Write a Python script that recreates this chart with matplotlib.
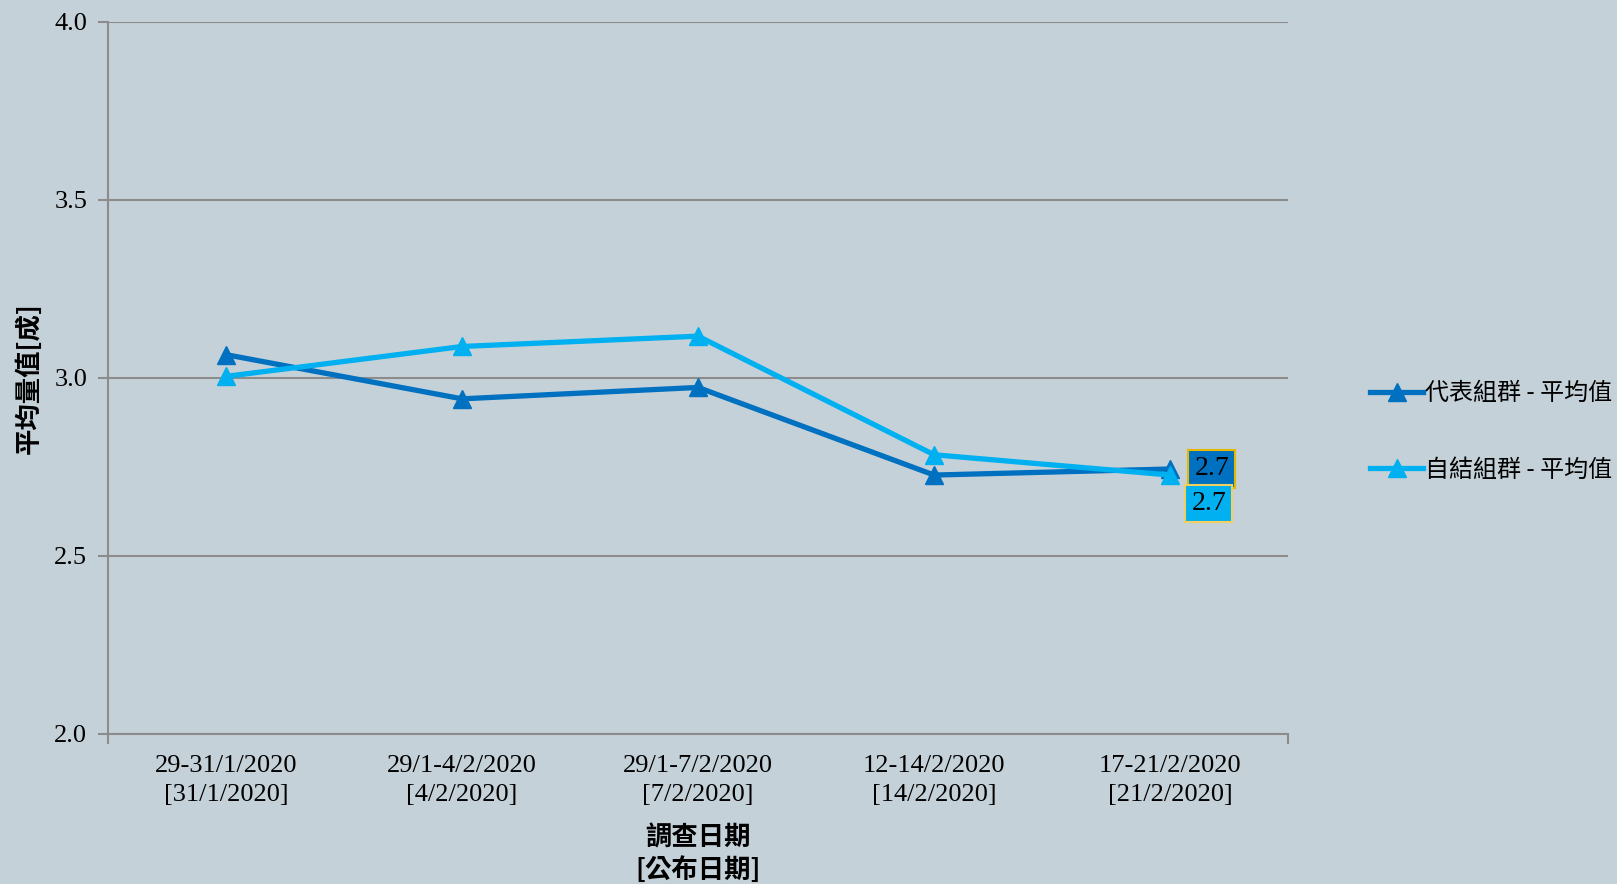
import matplotlib.pyplot as plt

# survey dates [publish dates]
dates = ["29-31/1/2020\n[31/1/2020]", "29/1-4/2/2020\n[4/2/2020]", "29/1-7/2/2020\n[7/2/2020]",
         "12-14/2/2020\n[14/2/2020]", "17-21/2/2020\n[21/2/2020]"]
rep_mean = [3.065, 2.941, 2.973, 2.727, 2.744]
self_mean = [3.004, 3.088, 3.117, 2.784, 2.727]
rep_name = "代表組群 - 平均值"
self_name = "自結組群 - 平均值"

bg = "#C5D1D8"
dark = "#0070C0"
light = "#00B0F0"
serif = ["Liberation Serif", "Noto Sans CJK TC"]
cjk = ["Noto Sans CJK TC", "DejaVu Sans"]

fig = plt.figure(figsize=(16.17, 8.84), dpi=100, facecolor=bg)
ax = fig.add_axes([0.0668, 0.1697, 0.7298, 0.8058], facecolor=bg)

x = list(range(len(dates)))
ax.plot(x, rep_mean, color=dark, lw=3.8, marker="^", ms=13, label=rep_name, zorder=3)
ax.plot(x, self_mean, color=light, lw=3.8, marker="^", ms=13, label=self_name, zorder=3)

ax.set_xlim(-0.5, 4.5)
ax.set_ylim(2.0, 4.0)
ax.set_yticks([2.0, 2.5, 3.0, 3.5, 4.0])
ax.set_yticklabels(["2.0", "2.5", "3.0", "3.5", "4.0"], family=serif, fontsize=19)
ax.set_xticks(x)
ax.set_xticklabels(dates, family=serif, fontsize=19, linespacing=1.42)
ax.tick_params(axis="x", length=0, pad=15)
ax.set_xticks([-0.5, 4.5], minor=True)
ax.tick_params(axis="x", which="minor", length=7, color="#8C8C8C", width=1.5)
ax.tick_params(axis="y", length=7, color="#8C8C8C", width=1.5, pad=8)
ax.yaxis.grid(True, color="#8C8C8C", lw=1.5)
ax.set_axisbelow(True)
for s in ["top", "right"]:
    ax.spines[s].set_visible(False)
for s in ["left", "bottom"]:
    ax.spines[s].set_color("#8C8C8C")
    ax.spines[s].set_linewidth(1.5)

ax.set_ylabel("平均量值[成]", family=cjk, fontsize=19, fontweight="bold", labelpad=8)
ax.set_xlabel("調查日期\n[公布日期]", family=cjk, fontsize=19, fontweight="bold", labelpad=13, linespacing=1.3)

# value labels on last point
ax.annotate(f"{rep_mean[-1]:.1f}", (x[-1], rep_mean[-1]), xytext=(30, 0), textcoords="offset points",
            ha="center", va="center", family=serif, fontsize=20,
            bbox=dict(boxstyle="square,pad=0.22", fc=dark, ec="#E8B800", lw=1.5))
ax.annotate(f"{self_mean[-1]:.1f}", (x[-1], self_mean[-1]), xytext=(28, -20.5), textcoords="offset points",
            ha="center", va="center", family=serif, fontsize=20,
            bbox=dict(boxstyle="square,pad=0.22", fc=light, ec="#F0D060", lw=1.5))

leg = fig.legend(loc="center left", bbox_to_anchor=(0.834, 0.512), frameon=False,
                 prop={"family": cjk, "size": 17.3}, labelspacing=2.1, handlelength=2.2,
                 handletextpad=0.1)

fig.savefig("out.png", dpi=100, facecolor=bg)
